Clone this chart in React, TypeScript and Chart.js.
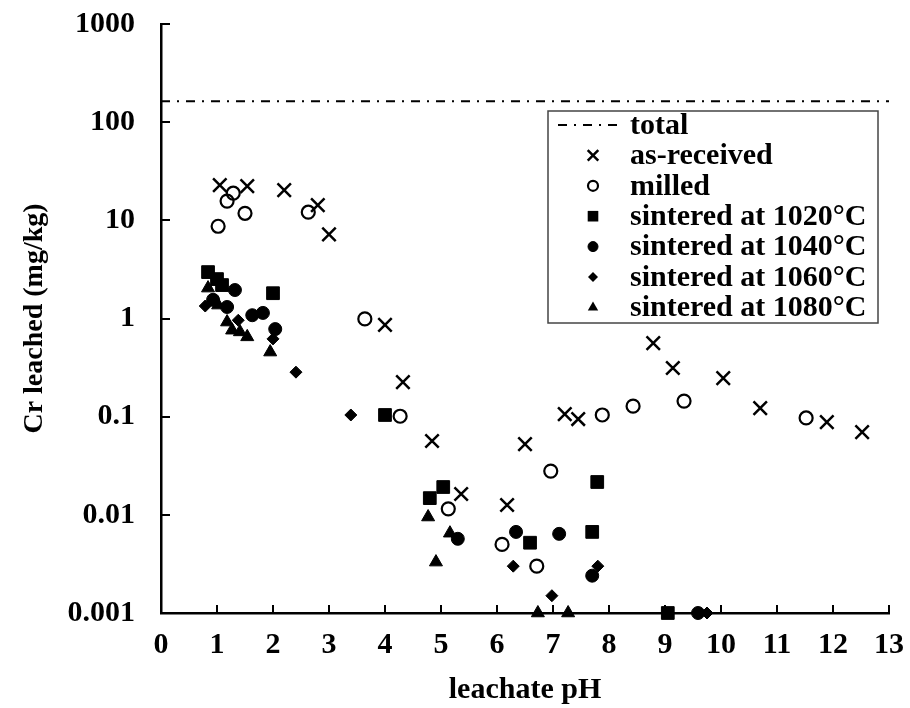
import React, { useEffect, useRef } from "react";
import { Chart, registerables } from "chart.js";

Chart.register(...registerables);

// Axis ticks
const xTicks = [0, 1, 2, 3, 4, 5, 6, 7, 8, 9, 10, 11, 12, 13];
const yTicks = [0.001, 0.01, 0.1, 1, 10, 100, 1000];
const yTickLabels = ["0.001", "0.01", "0.1", "1", "10", "100", "1000"];

// Total Cr content (mg/kg)
const totalCr = 163;

// as-received
const asReceivedPH = [1.05, 1.54, 2.2, 2.8, 3.0, 4.0, 4.32, 4.84, 5.36, 6.18, 6.5, 7.21, 7.45, 8.79, 9.14, 10.04, 10.7, 11.89, 12.52];
const asReceivedCr = [22.8, 22.3, 20.3, 14.3, 7.2, 0.86, 0.225, 0.0565, 0.0163, 0.0126, 0.0526, 0.106, 0.0946, 0.561, 0.313, 0.247, 0.122, 0.088, 0.0697];

// milled
const milledPH = [1.02, 1.18, 1.29, 1.5, 2.63, 3.64, 4.27, 5.13, 6.09, 6.71, 6.96, 7.88, 8.43, 9.34, 11.52];
const milledCr = [8.7, 15.7, 18.9, 11.8, 12.1, 0.99, 0.101, 0.0115, 0.005, 0.003, 0.0279, 0.104, 0.128, 0.144, 0.097];

// sintered at 1020°C
const s1020PH = [0.84, 1.0, 1.09, 2.0, 4.0, 4.8, 5.04, 6.59, 7.79, 7.7, 9.05];
const s1020Cr = [2.97, 2.52, 2.19, 1.81, 0.104, 0.0148, 0.0192, 0.0052, 0.0216, 0.0067, 0.001];

// sintered at 1040°C
const s1040PH = [0.93, 1.32, 1.18, 1.63, 1.82, 2.04, 5.3, 6.34, 7.11, 7.7, 9.59];
const s1040Cr = [1.55, 1.95, 1.31, 1.08, 1.14, 0.78, 0.0057, 0.0067, 0.0064, 0.0024, 0.001];

// sintered at 1060°C
const s1060PH = [0.79, 1.38, 2.0, 2.41, 3.39, 6.29, 6.98, 7.8, 9.75];
const s1060Cr = [1.34, 0.96, 0.62, 0.284, 0.104, 0.003, 0.0015, 0.003, 0.001];

// sintered at 1080°C
const s1080PH = [0.84, 1.02, 1.18, 1.27, 1.41, 1.54, 1.95, 4.77, 5.16, 4.91, 6.73, 7.27];
const s1080Cr = [2.04, 1.37, 0.92, 0.76, 0.73, 0.65, 0.455, 0.0095, 0.0065, 0.0033, 0.001, 0.001];

const FONT_FAMILY = "'Liberation Serif', 'Times New Roman', serif";
const TOTAL_DASH = [9, 7, 2, 7];

const pairs = (xs: number[], ys: number[]) => xs.map((x, i) => ({ x, y: ys[i] }));

type Marker = { style: string; filled: boolean; radius: number; legendRadius: number; lineWidth: number };

const markers: Record<string, Marker> = {
  "as-received": { style: "crossRot", filled: false, radius: 9.5, legendRadius: 7.5, lineWidth: 2.5 },
  milled: { style: "circle", filled: false, radius: 6.5, legendRadius: 5, lineWidth: 2.2 },
  "sintered at 1020°C": { style: "rect", filled: true, radius: 9, legendRadius: 7.5, lineWidth: 1 },
  "sintered at 1040°C": { style: "circle", filled: true, radius: 6.5, legendRadius: 5, lineWidth: 1 },
  "sintered at 1060°C": { style: "rectRot", filled: true, radius: 6, legendRadius: 5, lineWidth: 1 },
  "sintered at 1080°C": { style: "triangle", filled: true, radius: 7.5, legendRadius: 6, lineWidth: 1 },
};

function pointDataset(label: string, xs: number[], ys: number[]) {
  const m = markers[label];
  return {
    label,
    data: pairs(xs, ys),
    pointStyle: m.style,
    pointRadius: m.radius,
    pointHoverRadius: m.radius,
    pointBorderWidth: m.lineWidth,
    pointBorderColor: "#000",
    pointBackgroundColor: m.filled ? "#000" : "rgba(255,255,255,0)",
    borderColor: "#000",
    backgroundColor: m.filled ? "#000" : "rgba(255,255,255,0)",
    showLine: false,
    clip: false as const,
  };
}

// Small marker renderer for the legend box
function drawMarker(ctx: CanvasRenderingContext2D, m: Marker, x: number, y: number) {
  const r = m.legendRadius;
  ctx.save();
  ctx.lineWidth = m.lineWidth;
  ctx.strokeStyle = "#000";
  ctx.fillStyle = "#000";
  ctx.beginPath();
  if (m.style === "crossRot") {
    const o = r * Math.SQRT1_2;
    ctx.moveTo(x - o, y - o);
    ctx.lineTo(x + o, y + o);
    ctx.moveTo(x + o, y - o);
    ctx.lineTo(x - o, y + o);
    ctx.stroke();
  } else if (m.style === "circle") {
    ctx.arc(x, y, r, 0, Math.PI * 2);
    if (m.filled) ctx.fill();
    ctx.stroke();
  } else if (m.style === "rect") {
    const s = r * Math.SQRT1_2;
    ctx.rect(x - s, y - s, 2 * s, 2 * s);
    ctx.fill();
  } else if (m.style === "rectRot") {
    ctx.moveTo(x - r, y);
    ctx.lineTo(x, y - r);
    ctx.lineTo(x + r, y);
    ctx.lineTo(x, y + r);
    ctx.closePath();
    ctx.fill();
  } else if (m.style === "triangle") {
    const a = (2 * Math.PI) / 3;
    ctx.moveTo(x, y - r);
    ctx.lineTo(x + Math.sin(a) * r, y - Math.cos(a) * r);
    ctx.lineTo(x + Math.sin(2 * a) * r, y - Math.cos(2 * a) * r);
    ctx.closePath();
    ctx.fill();
  }
  ctx.restore();
}

// Inward tick marks on both axes
const innerTicks = {
  id: "innerTicks",
  afterDraw(chart: any) {
    const { ctx, chartArea, scales } = chart;
    ctx.save();
    ctx.strokeStyle = "#000";
    ctx.lineWidth = 2;
    ctx.beginPath();
    xTicks.forEach((v) => {
      if (v === 0) return;
      const px = Math.round(scales.x.getPixelForValue(v));
      ctx.moveTo(px, chartArea.bottom);
      ctx.lineTo(px, chartArea.bottom - 8);
    });
    yTicks.forEach((v) => {
      if (v === 0.001) return;
      const py = Math.round(scales.y.getPixelForValue(v));
      ctx.moveTo(chartArea.left, py);
      ctx.lineTo(chartArea.left + 9, py);
    });
    ctx.stroke();
    ctx.restore();
  },
};

// Legend box inside the plot area
const insetLegend = {
  id: "insetLegend",
  afterDraw(chart: any) {
    const ctx: CanvasRenderingContext2D = chart.ctx;
    const left = 548;
    const top = 111;
    const width = 330;
    const height = 212;
    const rowTop = 125;
    const rowStep = 30.4;
    const symbolX = 593;
    const textX = 630;
    ctx.save();
    ctx.fillStyle = "#fff";
    ctx.fillRect(left, top, width, height);
    ctx.strokeStyle = "#444";
    ctx.lineWidth = 1.5;
    ctx.strokeRect(left, top, width, height);
    ctx.font = `bold 30px ${FONT_FAMILY}`;
    ctx.textBaseline = "middle";
    ctx.textAlign = "left";
    ctx.fillStyle = "#000";
    chart.data.datasets.forEach((ds: any, i: number) => {
      const y = rowTop + i * rowStep;
      if (ds.label === "total") {
        ctx.save();
        ctx.strokeStyle = "#000";
        ctx.lineWidth = 2;
        ctx.setLineDash(TOTAL_DASH);
        ctx.beginPath();
        ctx.moveTo(558, y);
        ctx.lineTo(624, y);
        ctx.stroke();
        ctx.restore();
      } else {
        drawMarker(ctx, markers[ds.label], symbolX, y);
      }
      ctx.fillText(ds.label, textX, y + 1);
    });
    ctx.restore();
  },
};

export default function App() {
  const canvasRef = useRef<HTMLCanvasElement>(null);

  useEffect(() => {
    document.body.style.margin = "0";
    const canvas = canvasRef.current;
    if (!canvas) return;

    const tickFont = { family: FONT_FAMILY, size: 30, weight: "bold" as const };

    const chart = new Chart(canvas, {
      type: "scatter",
      data: {
        datasets: [
          {
            label: "total",
            data: [
              { x: xTicks[0], y: totalCr },
              { x: xTicks[xTicks.length - 1], y: totalCr },
            ],
            showLine: true,
            borderColor: "#000",
            borderWidth: 2,
            borderDash: TOTAL_DASH,
            pointRadius: 0,
            pointHoverRadius: 0,
          } as any,
          pointDataset("as-received", asReceivedPH, asReceivedCr),
          pointDataset("milled", milledPH, milledCr),
          pointDataset("sintered at 1020°C", s1020PH, s1020Cr),
          pointDataset("sintered at 1040°C", s1040PH, s1040Cr),
          pointDataset("sintered at 1060°C", s1060PH, s1060Cr),
          pointDataset("sintered at 1080°C", s1080PH, s1080Cr),
        ],
      },
      options: {
        responsive: false,
        animation: false,
        devicePixelRatio: 1,
        layout: { padding: { top: 24, right: 21, left: 0, bottom: 0 } },
        plugins: {
          legend: { display: false },
          tooltip: { enabled: false },
        },
        scales: {
          x: {
            type: "linear",
            min: 0,
            max: 13,
            afterBuildTicks: (scale: any) => {
              scale.ticks = xTicks.map((v) => ({ value: v }));
            },
            afterFit: (scale: any) => {
              scale.height = 95;
              scale.paddingLeft = 0;
              scale.paddingRight = 0;
            },
            ticks: {
              autoSkip: false,
              maxRotation: 0,
              padding: 14,
              color: "#000",
              font: tickFont,
              callback: (v: any) => String(v),
            },
            grid: { display: true, drawOnChartArea: false, drawTicks: false },
            border: { display: true, color: "#000", width: 2.5 },
            title: {
              display: true,
              text: "leachate pH",
              color: "#000",
              font: { family: FONT_FAMILY, size: 30, weight: "bold" },
              padding: { top: 0, bottom: 0 },
            },
          },
          y: {
            type: "logarithmic",
            min: 0.001,
            max: 1000,
            afterBuildTicks: (scale: any) => {
              scale.ticks = yTicks.map((v) => ({ value: v }));
            },
            afterFit: (scale: any) => {
              scale.width = 161;
              scale.paddingTop = 0;
              scale.paddingBottom = 0;
            },
            ticks: {
              autoSkip: false,
              padding: 26,
              color: "#000",
              font: tickFont,
              callback: (v: any) => {
                const i = yTicks.findIndex((t) => Math.abs(Math.log10(t) - Math.log10(Number(v))) < 1e-6);
                return i >= 0 ? yTickLabels[i] : "";
              },
            },
            grid: { display: true, drawOnChartArea: false, drawTicks: false },
            border: { display: true, color: "#000", width: 2.5 },
            title: {
              display: true,
              text: "Cr leached (mg/kg)",
              color: "#000",
              font: { family: FONT_FAMILY, size: 28, weight: "bold" },
              padding: { top: 18, bottom: 0 },
            },
          },
        },
      },
      plugins: [innerTicks, insetLegend],
    });

    return () => chart.destroy();
  }, []);

  return (
    <div style={{ position: "absolute", left: 0, top: 0, width: 910, height: 708 }}>
      <canvas ref={canvasRef} width={910} height={708} style={{ display: "block" }} />
    </div>
  );
}
